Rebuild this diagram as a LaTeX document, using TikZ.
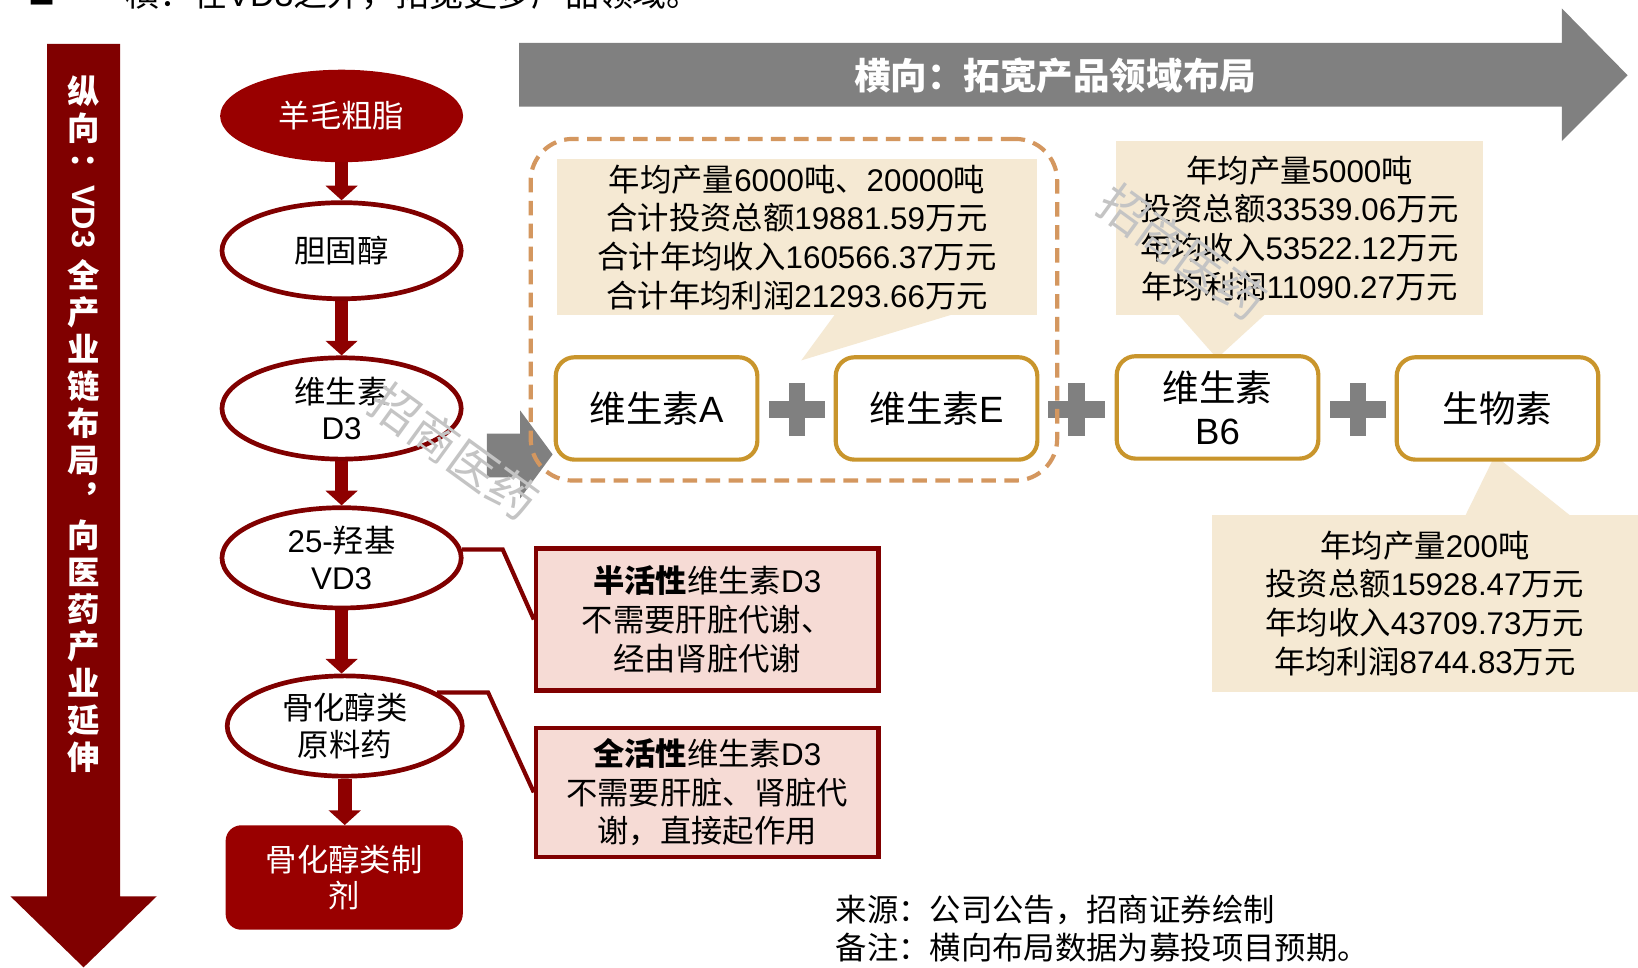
\documentclass[tikz,border=0pt]{standalone}
\usepackage{fontspec}
\setmainfont{Noto Sans CJK SC}
\newfontfamily\en{Liberation Sans}
\usetikzlibrary{shapes.geometric,arrows.meta,calc}
\definecolor{barred}{HTML}{800000}
\definecolor{darkred}{HTML}{990000}
\definecolor{strokered}{HTML}{800000}
\definecolor{arrred}{HTML}{8E0000}
\definecolor{pinkfill}{HTML}{F6DBD5}
\definecolor{greyarr}{HTML}{808080}
\definecolor{beige}{HTML}{F5E9D3}
\definecolor{goldline}{HTML}{C9952C}
\definecolor{dashorange}{HTML}{D4975F}
\definecolor{wmgrey}{HTML}{C4C4C4}
\newcommand\fsz[2]{\fontsize{#1}{#2}\selectfont}

\begin{document}
\begin{tikzpicture}[x=1pt,y=-1pt,
  ell/.style={ellipse, draw=strokered, line width=4.5pt, fill=white, inner sep=0pt, align=center, font=\fsz{30}{35}},
  darr/.style={draw=arrred, line width=13pt, -{Triangle[width=30pt,length=14pt]}},
  pinkbox/.style={rectangle, draw=strokered, line width=4pt, fill=pinkfill, align=center, font=\fsz{30}{37}, minimum width=328pt, inner sep=0pt},
  goldbox/.style={rectangle, rounded corners=18pt, draw=goldline, line width=4pt, fill=white, minimum width=193pt, minimum height=98pt, align=center, font=\fsz{35}{41}, inner sep=0pt},
  calloutbox/.style={rectangle, fill=beige, align=center, font=\fsz{30}{37}, inner sep=0pt},
  linkline/.style={draw=strokered, line width=4pt},
  wm/.style={text=wmgrey, font=\fsz{46}{46}, rotate=-36, inner sep=0pt},
  vtext/.style={text=white, align=center, font=\fsz{31}{35.5}\bfseries, inner sep=0pt},
]
\useasboundingbox (0,0) rectangle (1568,926);
\fill[white] (0,0) rectangle (1568,926);

% partially visible heading at the top edge
\node[anchor=base west, inner sep=0pt, font=\fsz{26}{26}] (topsq) at (27,4) {■};
\node[anchor=base west, inner sep=0pt, font=\fsz{32.5}{32.5}] (toptext) at (120,6) {横：在{\en VD3}之外，拓宽更多产品领域。};

% vertical arrow
\fill[barred] (45,42) -- (115,42) -- (115,858) -- (150,858) -- (80,926) -- (10,858) -- (45,858) -- cycle;
\node[vtext] (vt1) at (80,105) {纵\\向};
\node[text=white, font=\fsz{31}{31}\bfseries, rotate=-90, inner sep=0pt] (vt2) at (80,192) {：{\en VD3}};
\node[vtext] (vt3) at (80,494) {全\\产\\业\\链\\布\\局\\︐\\向\\医\\药\\产\\业\\延\\伸};

% horizontal grey arrow
\fill[greyarr] (497,41) -- (1495,41) -- (1495,8) -- (1558,72) -- (1495,135) -- (1495,102) -- (497,102) -- cycle;
\node[text=white, font=\fsz{35}{35}\bfseries] (htitle) at (1010,72) {横向：拓宽产品领域布局};

% callouts
\fill[beige] (800,300) -- (915,300) -- (767,345) -- cycle;
\node[calloutbox, minimum width=460pt, minimum height=150pt] (c1) at (763,227)
  {年均产量{\en 6000}吨、{\en 20000}吨\\合计投资总额{\en 19881.59}万元\\合计年均收入{\en 160566.37}万元\\合计年均利润{\en 21293.66}万元};
\fill[beige] (1127,300) -- (1212,300) -- (1165,343) -- cycle;
\node[calloutbox, minimum width=352pt, minimum height=167pt] (c2) at (1244,218.5)
  {年均产量{\en 5000}吨\\投资总额{\en 33539.06}万元\\年均收入{\en 53522.12}万元\\年均利润{\en 11090.27}万元};
\fill[beige] (1402,495) -- (1505,495) -- (1431,436) -- cycle;
\node[calloutbox, minimum width=408pt, minimum height=169pt] (c3) at (1364,577.5)
  {年均产量{\en 200}吨\\投资总额{\en 15928.47}万元\\年均收入{\en 43709.73}万元\\年均利润{\en 8744.83}万元};

% small grey chevron
\fill[greyarr] (466,415) -- (498,415) -- (498,393) -- (529,435) -- (498,477) -- (498,457) -- (466,457) -- cycle;

% plus signs
\foreach \n/\x in {pl1/763, pl2/1030.5, pl3/1300} {
  \coordinate (\n) at (\x,392);
  \fill[greyarr] ($(\n)+(-27,-8)$) rectangle ($(\n)+(27,8)$);
  \fill[greyarr] ($(\n)+(-8,-25)$) rectangle ($(\n)+(8,25)$);
}

% dashed group frame
\node[draw=dashorange, line width=4pt, dash pattern=on 14pt off 8pt, rounded corners=40pt,
      minimum width=504pt, minimum height=327pt, inner sep=0pt] (grp) at (760,296.5) {};

% product boxes
\node[goldbox] (bA) at (628.5,391) {维生素{\en A}};
\node[goldbox] (bE) at (896.5,391) {维生素{\en E}};
\node[goldbox] (bB) at (1165.5,390) {维生素\\{\en B6}};
\node[goldbox] (bBio) at (1433.5,391) {生物素};

% vertical chain
\node[ell, fill=darkred, draw=darkred, text=white, minimum width=228pt, minimum height=84pt] (e1) at (327,111) {羊毛粗脂};
\node[ell, minimum width=229pt, minimum height=92pt] (e2) at (327,240) {胆固醇};
\node[ell, minimum width=229pt, minimum height=97pt] (e3) at (327,391) {维生素\\{\en D3}};
\node[ell, minimum width=229pt, minimum height=96pt] (e4) at (327,534) {{\en 25-}羟基\\{\en VD3}};
\node[ell, minimum width=225pt, minimum height=96pt] (e5) at (330,695) {骨化醇类\\原料药};
\node[rectangle, rounded corners=15pt, fill=darkred, text=white, minimum width=227pt, minimum height=100pt,
      align=center, font=\fsz{30}{35}, inner sep=0pt] (r6) at (329.5,840) {骨化醇类制\\剂};

\draw[darr] (e1.south) -- (e2.north);
\draw[darr] (e2.south) -- (e3.north);
\draw[darr] (e3.south) -- (e4.north);
\draw[darr] (e4.south) -- (e4.south |- e5.north);
\draw[darr] (e5.south) -- (e5.south |- r6.north);

% pink boxes
\node[pinkbox, minimum height=136pt] (pk1) at (677,593) {{\bfseries 半活性}维生素{\en D3}\\不需要肝脏代谢、\\经由肾脏代谢};
\node[pinkbox, minimum height=123pt] (pk2) at (677,758.5) {{\bfseries 全活性}维生素{\en D3}\\不需要肝脏、肾脏代\\谢，直接起作用};

\draw[linkline] (e4.4) -- ++(39,0) -- (pk1.west);
\draw[linkline] (e5.20) -- ++(49,0) -- (pk2.west);

% watermarks
\node[wm] (wm1) at (435,432) {招商医药};
\node[wm] (wm2) at (1132,241) {招商医药};

% footer
\node[anchor=west, align=left, font=\fsz{30}{36}, inner sep=0pt] (src) at (800,889) {来源：公司公告，招商证券绘制\\备注：横向布局数据为募投项目预期。};
\end{tikzpicture}
\end{document}
